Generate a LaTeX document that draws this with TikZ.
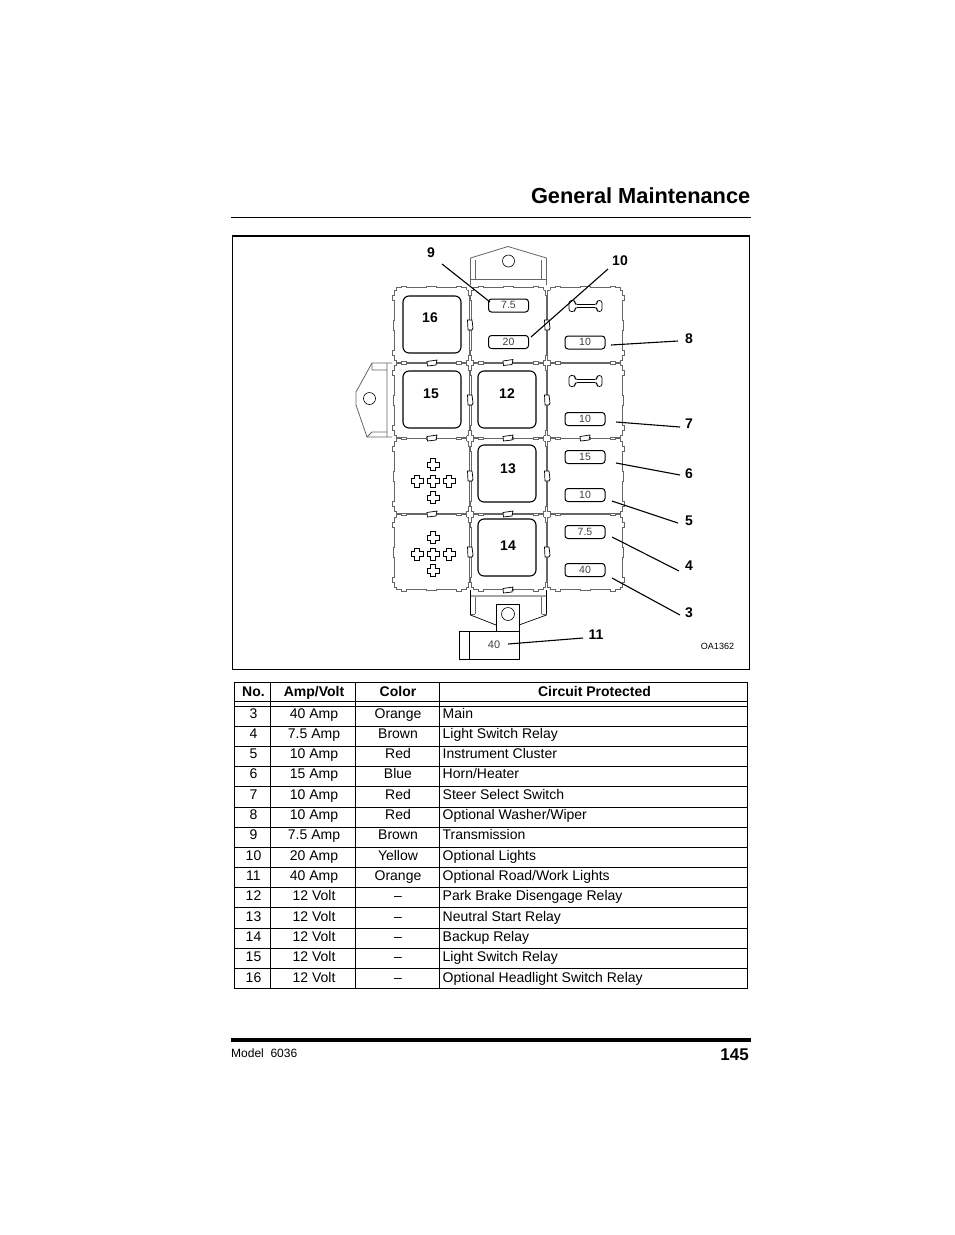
\documentclass[tikz,border=0pt]{standalone}
\usepackage{fontspec}
\setmainfont{Liberation Sans}
\usetikzlibrary{calc,positioning}
\definecolor{cellgray}{gray}{0.4}
\tikzset{
  cell/.pic={
    \foreach \a in {0,90,180,270} {
      \draw[cellgray,line width=.9pt,rotate=\a] (-35,-35) -- (-35,-37.2) -- (-30,-37.2) -- (-30,-39) -- (-25,-39) -- (-25,-37.5) -- (-5,-37.5) -- (-5,-38.5) -- (5,-38.5) -- (5,-37.5) -- (25,-37.5) -- (25,-39) -- (30,-39) -- (30,-37.2) -- (35,-37.2) -- (35,-35);
    }
  },
  relay/.style={draw,line width=1.1pt,rounded corners=6pt,minimum width=58pt,minimum height=57pt,inner sep=0pt,fill=white},
  fuse/.style={draw,line width=1pt,rounded corners=3pt,minimum width=40pt,minimum height=13pt,inner sep=0pt,font=\fontsize{10.5}{10.5}\selectfont,text=black!75,fill=white},
  callout/.style={font=\fontsize{14}{14}\selectfont\bfseries,inner sep=4pt},
  leader/.style={line width=1.1pt},
  cellbody/.style={font=\fontsize{14}{14}\selectfont,inner sep=0pt,anchor=base},
  heading/.style={cellbody,font=\fontsize{14}{14}\selectfont\bfseries},
}
\begin{document}
\begin{tikzpicture}[x=1pt,y=-1pt]
  \useasboundingbox (0,0) rectangle (954,1235);
  % page head
  \node[anchor=base east,inner sep=0pt,font=\fontsize{21.8}{21.8}\selectfont\bfseries] (title) at (750.5,203) {General Maintenance};
  \draw[line width=.7pt] (231,217.5) -- (750.5,217.5);
  \draw[line width=.9pt] (232.5,669.5) -- (232.5,236) (749.5,236) -- (749.5,669.5) -- (232.5,669.5);
  \draw[line width=1.6pt] (232,236) -- (750,236);

  % brackets
  \draw[cellgray,line width=.8pt] (470.5,285) -- (470.5,258) -- (508,246.5) -- (546.5,258) -- (546.5,285);
  \draw[cellgray,line width=.8pt] (475,279) -- (475,260) (541.5,279) -- (541.5,260) (470.5,279) -- (546.5,279);
  \draw[line width=.6pt] (508.5,261) circle(6);
  \draw[cellgray,line width=.8pt] (392,363) -- (372,363) -- (356,392) -- (356,405) -- (367,437) -- (392,437);
  \draw[cellgray,line width=.8pt] (372,363) -- (372,370) -- (387,370) (387,363) -- (387,437) (367,437) -- (372,432) -- (387,432);
  \draw[line width=.6pt] (369.5,398.5) circle(6);
  \draw[line width=.7pt] (470.5,590) -- (470.5,615) -- (496,625) (546.5,590) -- (546.5,615) -- (519,625) (470.5,596) -- (546.5,596);
  \draw[cellgray,line width=.8pt] (475,597) -- (475,614) (541.5,597) -- (541.5,614) (470.5,614) -- (475,614) (541.5,614) -- (546.5,614);
  \draw[line width=.7pt] (496,631) -- (496,604) -- (519,604) -- (519,631);
  \draw[line width=.6pt] (508,614) circle(6.5);

  % cells
  \foreach \i in {431.5,508.5,585} {
    \foreach \j in {325,400.5,476,552} {
      \pic at (\i,\j) {cell};
    }
  }
  \foreach \i/\j in {432/363,508/362.5,432/438,508/438,585/438,432/514,508/514,508/590} {
    \draw[line width=.7pt,fill=white] ($(\i,\j)+(-5,-1.5)$) -- ($(\i,\j)+(-4.5,3)$) -- ($(\i,\j)+(4,2)$) -- ($(\i,\j)+(5,-3)$) -- cycle;
  }
  \foreach \i in {470,547} {
    \foreach \j in {325,400,476,552} {
      \draw[line width=.7pt,fill=white] ($(\i,\j)+(-2.5,-5)$) -- ($(\i,\j)+(2,-5)$) -- ($(\i,\j)+(3,3)$) -- ($(\i,\j)+(2,5)$) -- ($(\i,\j)+(-2,5)$) -- cycle;
    }
  }

  % relays
  \foreach \n/\i/\j in {16/432/324.5,15/432/399.5,12/507/399.5,13/507/473.5,14/507/547.5} {
    \node[relay] (relay\n) at (\i,\j) {};
  }
  \node[callout] (lab16) at (430,318) {16};
  \node[callout] (lab15) at (431,394) {15};
  \node[callout] (lab12) at (507,394) {12};
  \node[callout] (lab13) at (508,469) {13};
  \node[callout] (lab14) at (508,546) {14};

  % fuses
  \foreach \n/\t/\i/\j in {a/7.5/508.5/305.5,b/20/508.5/342,c/10/585/342.5,d/10/585/419,e/15/585/457,f/10/585/495,g/7.5/585/532,h/40/585/570} {
    \node[fuse] (fuse\n) at (\i,\j) {\raisebox{.7pt}{\t}};
  }
  \foreach \j in {306,381} {
    \draw[line width=.7pt,rounded corners=2.5pt] (575,\j-1.5) -- (597,\j-1.5) -- (597,\j-5.5) -- (602,\j-5.5) -- (602,\j+5.5) -- (597,\j+5.5) -- (597,\j+1.5) -- (575,\j+1.5) -- (575,\j+5.5) -- (569,\j+5.5) -- (569,\j-5.5) -- (575,\j-5.5) -- cycle;
  }

  % crosses
  \foreach \j in {481,554} {
    \foreach \dx/\dy in {0/-16.5,-16/0,0/0,16/0,0/16.5} {
      \draw[line width=.7pt,shift={(433+\dx,\j+\dy)}] (-2.5,-6) -- (2.5,-6) -- (2.5,-2.5) -- (6,-2.5) -- (6,2.5) -- (2.5,2.5) -- (2.5,6) -- (-2.5,6) -- (-2.5,2.5) -- (-6,2.5) -- (-6,-2.5) -- (-2.5,-2.5) -- cycle;
    }
  }

  % big fuse
  \draw[line width=.7pt,fill=white] (459.5,631) rectangle (519.5,659);
  \draw[line width=.7pt] (469.5,631) -- (469.5,659);
  \node[font=\fontsize{11}{11}\selectfont,text=black!75,inner sep=0pt] (fuseBig) at (494,645) {40};

  % callouts
  \foreach \n/\i/\j/\a/\b/\x/\y in {9/431/253/442/264/490/302,10/620/261/608/269/531/337,8/689/339/678/341/611/345,7/689/424/680/427/616/422,6/689/474/680/475/616/463,5/689/521/678/523/612/501,4/689/566/679/571/612/537,3/689/613/680/615/612/578,11/596/635/583/638/508/644} {
    \node[callout] (lab\n) at (\i,\j) {\n};
    \coordinate (tail\n) at (\a,\b);
    \coordinate (tip\n) at (\x,\y);
    \draw[leader] (tail\n) -- (tip\n);
  }
  \node[font=\fontsize{9}{9}\selectfont,inner sep=0pt] (code) at (717.5,646) {OA1362};

  % table
  \draw[line width=.7pt] (234.5,682.5) rectangle (747.5,988.5);
  \foreach \i in {270.5,355.5,439.5} {
    \draw[line width=.7pt] (\i,682.5) -- (\i,988.5);
  }
  \draw[line width=.7pt] (234.5,701.5) -- (747.5,701.5);
  \node[heading] (headNo) at (253.5,696) {No.};
  \node[heading] (headAmp) at (314,696) {Amp/Volt};
  \node[heading] (headColor) at (398,696) {Color};
  \node[heading] (headCircuit) at (594.5,696) {Circuit Protected};
  \foreach \no/\amp/\col/\cir [count=\k from 0] in {
    3/40 Amp/Orange/Main,
    4/7.5 Amp/Brown/Light Switch Relay,
    5/10 Amp/Red/Instrument Cluster,
    6/15 Amp/Blue/Horn\slash Heater,
    7/10 Amp/Red/Steer Select Switch,
    8/10 Amp/Red/Optional Washer\slash Wiper,
    9/7.5 Amp/Brown/Transmission,
    10/20 Amp/Yellow/Optional Lights,
    11/40 Amp/Orange/Optional Road\slash Work Lights,
    12/12 Volt/--/Park Brake Disengage Relay,
    13/12 Volt/--/Neutral Start Relay,
    14/12 Volt/--/Backup Relay,
    15/12 Volt/--/Light Switch Relay,
    16/12 Volt/--/Optional Headlight Switch Relay} {
    \draw[line width=.7pt] (234.5,706+20.18*\k) -- (747.5,706+20.18*\k);
    \node[cellbody] (no\no) at (253.5,718+20.32*\k) {\no};
    \node[cellbody] (amp\no) at (314,718+20.32*\k) {\amp};
    \node[cellbody] (col\no) at (398,718+20.32*\k) {\col};
    \node[cellbody,anchor=base west] (cir\no) at (442.5,718+20.32*\k) {\cir};
  }

  % page foot
  \draw[line width=3.2pt] (231,1040) -- (751,1040);
  \node[anchor=base west,inner sep=0pt,font=\fontsize{12}{12}\selectfont] (model) at (231,1057) {Model\ \ 6036};
  \node[anchor=base east,inner sep=0pt,font=\fontsize{17}{17}\selectfont\bfseries] (page) at (749,1060) {145};
\end{tikzpicture}
\end{document}
